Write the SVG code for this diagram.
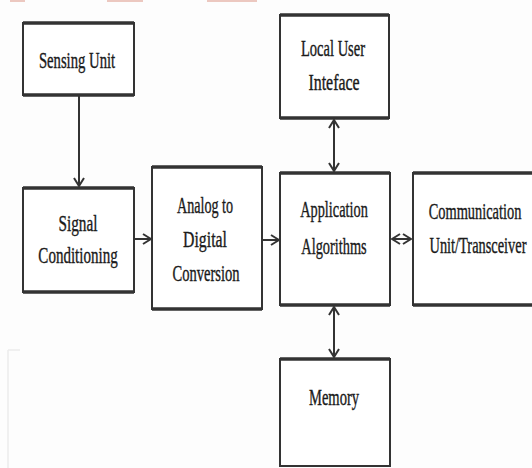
<svg xmlns="http://www.w3.org/2000/svg" width="532" height="468" viewBox="0 0 532 468">
<style>
.box{fill:#fff;stroke:#333;stroke-width:2}
.hb{stroke:#333;stroke-width:3.5;fill:none}
.lbl{font-family:"Liberation Serif","DejaVu Serif","Times New Roman",serif;font-size:24px;fill:#1a1a1a;stroke:#1a1a1a;stroke-width:0.4;text-anchor:middle}
.con{stroke:#333;stroke-width:2;fill:none}
</style>
<defs>
<marker id="ah" markerUnits="userSpaceOnUse" markerWidth="10" markerHeight="12" refX="9" refY="6" orient="auto-start-reverse">
<path d="M1,1 L9,6 L1,11" fill="none" stroke="#333" stroke-width="2"/>
</marker>
</defs>
<rect width="532" height="468" fill="#fdfdfd"/>
<g id="fragments" fill="#ecc8c0">
<rect x="10" y="0" width="15" height="2"/>
<rect x="107" y="0" width="36" height="2"/>
<rect x="207" y="0" width="50" height="2"/>
</g>
<path d="M8,350 L8,468 M8,350 L20,350" stroke="#ececec" stroke-width="1.5" fill="none"/>

<g id="sensing">
<rect class="box" x="23" y="23" width="111" height="72"/>
<path class="hb" d="M23,23 H134 M23,95 H134"/>
<text class="lbl" transform="translate(77,68) scale(0.61,1)" textLength="125" lengthAdjust="spacingAndGlyphs">Sensing Unit</text>
</g>
<g id="signal">
<rect class="box" x="23" y="188" width="111" height="104"/>
<path class="hb" d="M23,188 H134 M23,292 H134"/>
<text class="lbl" transform="translate(78,231) scale(0.61,1)" textLength="64" lengthAdjust="spacingAndGlyphs">Signal</text>
<text class="lbl" transform="translate(78,263) scale(0.61,1)" textLength="130" lengthAdjust="spacingAndGlyphs">Conditioning</text>
</g>
<g id="adc">
<rect class="box" x="152" y="167" width="110" height="142"/>
<path class="hb" d="M152,167 H262 M152,309 H262"/>
<text class="lbl" transform="translate(205,213) scale(0.61,1)" textLength="92" lengthAdjust="spacingAndGlyphs">Analog to</text>
<text class="lbl" transform="translate(205,247) scale(0.61,1)" textLength="72" lengthAdjust="spacingAndGlyphs">Digital</text>
<text class="lbl" transform="translate(206,281) scale(0.61,1)" textLength="110" lengthAdjust="spacingAndGlyphs">Conversion</text>
</g>
<g id="app">
<rect class="box" x="280" y="173" width="110" height="132"/>
<path class="hb" d="M280,173 H390 M280,305 H390"/>
<text class="lbl" transform="translate(334,217) scale(0.61,1)" textLength="111" lengthAdjust="spacingAndGlyphs">Application</text>
<text class="lbl" transform="translate(334,254) scale(0.61,1)" textLength="107" lengthAdjust="spacingAndGlyphs">Algorithms</text>
</g>
<g id="comm">
<rect class="box" x="413" y="173" width="130" height="132"/>
<path class="hb" d="M413,173 H543 M413,305 H543"/>
<text class="lbl" transform="translate(475,219) scale(0.61,1)" textLength="152" lengthAdjust="spacingAndGlyphs">Communication</text>
<text class="lbl" transform="translate(478,253) scale(0.61,1)" textLength="159" lengthAdjust="spacingAndGlyphs">Unit/Transceiver</text>
</g>
<g id="lui">
<rect class="box" x="280" y="15" width="109" height="103"/>
<path class="hb" d="M280,15 H389 M280,118 H389"/>
<text class="lbl" transform="translate(333,56) scale(0.61,1)" textLength="105" lengthAdjust="spacingAndGlyphs">Local User</text>
<text class="lbl" transform="translate(334,90) scale(0.61,1)" textLength="84" lengthAdjust="spacingAndGlyphs">Inteface</text>
</g>
<g id="memory">
<rect class="box" x="280" y="359" width="110" height="107"/>
<path class="hb" d="M280,359 H390"/>
<text class="lbl" transform="translate(334,405) scale(0.61,1)" textLength="82" lengthAdjust="spacingAndGlyphs">Memory</text>
</g>

<g id="connectors">
<line class="con" x1="79" y1="96" x2="79" y2="186" marker-end="url(#ah)"/>
<line class="con" x1="135" y1="239" x2="151" y2="239" marker-end="url(#ah)"/>
<line class="con" x1="263" y1="240" x2="279" y2="240" marker-end="url(#ah)"/>
<line class="con" x1="392" y1="239" x2="411" y2="239" marker-start="url(#ah)" marker-end="url(#ah)"/>
<line class="con" x1="334" y1="120" x2="334" y2="171" marker-start="url(#ah)" marker-end="url(#ah)"/>
<line class="con" x1="334" y1="307" x2="334" y2="357" marker-start="url(#ah)" marker-end="url(#ah)"/>
</g>
</svg>
